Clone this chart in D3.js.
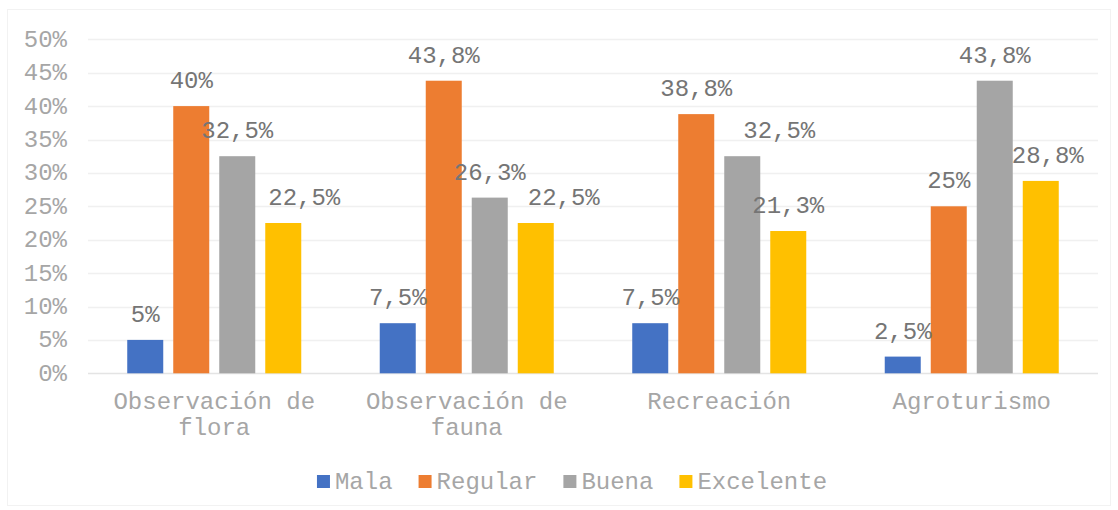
<!DOCTYPE html>
<html>
<head>
<meta charset="utf-8">
<script src="https://cdn.jsdelivr.net/npm/d3@7"></script>
<style>
  body { margin: 0; background: #fff; }
  svg text { font-family: "Courier New", "Nimbus Mono PS", FreeMono, "Liberation Mono", monospace; }
</style>
</head>
<body>
<div id="wrapper"></div>
<script>
// categories (two-line labels) and series
const categories = ['Observación de flora', 'Observación de fauna', 'Recreación', 'Agroturismo']
const categoryLines = [['Observación de', 'flora'], ['Observación de', 'fauna'], ['Recreación'], ['Agroturismo']]
const seriesNames = ['Mala', 'Regular', 'Buena', 'Excelente']

// percent values per series, one per category
const mala = [5, 7.5, 7.5, 2.5]
const regular = [40, 43.8, 38.8, 25]
const buena = [32.5, 26.3, 32.5, 43.8]
const excelente = [22.5, 22.5, 21.3, 28.8]

const yTicks = [0, 5, 10, 15, 20, 25, 30, 35, 40, 45, 50]

const colors = ['#4472C4', '#ED7D31', '#A5A5A5', '#FFC000']

// Excel moved a few labels sideways to dodge neighbouring bars
const labelDx = {
	'Observación de flora|Excelente': 21,
	'Observación de fauna|Excelente': 28,
	'Recreación|Buena': 37,
	'Agroturismo|Excelente': 7,
}

const seriesValues = [mala, regular, buena, excelente]
const rows = []
categories.forEach((c, i) => {
	seriesNames.forEach((s, j) => {
		rows.push({ category: c, series: s, value: seriesValues[j][i] })
	})
})

const dimensions = {
	width: 1118,
	height: 510,
	plotLeft: 88,
	plotRight: 1098,
	plotTop: 39.3,
	plotBottom: 373.3,
}

const wrapper = d3.select('#wrapper')
	.append('svg')
	.attr('width', dimensions.width)
	.attr('height', dimensions.height)

// chart frame
wrapper.append('rect')
	.attr('x', 7.5)
	.attr('y', 9.5)
	.attr('width', 1103)
	.attr('height', 496)
	.attr('fill', '#fff')
	.attr('stroke', '#f2f2f2')

const yScale = d3.scaleLinear()
	.domain([0, 50])
	.range([dimensions.plotBottom, dimensions.plotTop])

const xScale = d3.scaleBand()
	.domain(categories)
	.range([dimensions.plotLeft, dimensions.plotRight])

const seriesScale = d3.scaleBand()
	.domain(seriesNames)
	.range([0, xScale.bandwidth()])
	.paddingInner(10 / 46)
	.paddingOuter(0.853)

const colorScale = d3.scaleOrdinal()
	.domain(seriesNames)
	.range(colors)

// gridlines
wrapper.append('g')
	.selectAll('line')
	.data(yTicks)
	.enter().append('line')
	.attr('x1', dimensions.plotLeft)
	.attr('x2', dimensions.plotRight)
	.attr('y1', d => Math.round(yScale(d)) + 0.5)
	.attr('y2', d => Math.round(yScale(d)) + 0.5)
	.attr('stroke', d => d === 0 ? '#e4e4e4' : '#f0f0f0')
	.attr('stroke-width', 1.3)

// y axis labels
wrapper.append('g')
	.selectAll('text')
	.data(yTicks)
	.enter().append('text')
	.attr('x', 67)
	.attr('y', d => yScale(d) + 7.5)
	.attr('text-anchor', 'end')
	.attr('fill', '#a6a6a6')
	.style('font-size', '24px')
	.text(d => d + '%')

// bars
wrapper.append('g')
	.selectAll('rect')
	.data(rows)
	.enter().append('rect')
	.attr('x', d => xScale(d.category) + seriesScale(d.series))
	.attr('y', d => yScale(d.value))
	.attr('width', seriesScale.bandwidth())
	.attr('height', d => yScale(0) - yScale(d.value))
	.attr('fill', d => colorScale(d.series))

// data labels
const fmt = v => String(v).replace('.', ',') + '%'
wrapper.append('g')
	.selectAll('text')
	.data(rows)
	.enter().append('text')
	.attr('x', d => xScale(d.category) + seriesScale(d.series) + seriesScale.bandwidth() / 2
		+ (labelDx[d.category + '|' + d.series] || 0))
	.attr('y', d => yScale(d.value) - 18)
	.attr('text-anchor', 'middle')
	.attr('fill', '#757575')
	.style('font-size', '24px')
	.text(d => fmt(d.value))

// category labels
const catText = wrapper.append('g')
	.selectAll('text')
	.data(categories)
	.enter().append('text')
	.attr('text-anchor', 'middle')
	.attr('fill', '#a6a6a6')
	.style('font-size', '24px')

catText.each(function (d, i) {
	const cx = xScale(d) + xScale.bandwidth() / 2
	d3.select(this).selectAll('tspan')
		.data(categoryLines[i])
		.enter().append('tspan')
		.attr('x', cx)
		.attr('y', (l, k) => 409 + k * 26)
		.text(l => l)
})

// legend
const legend = wrapper.append('g')
const items = legend.selectAll('g')
	.data(seriesNames)
	.enter().append('g')

items.append('rect')
	.attr('y', 475)
	.attr('width', 13)
	.attr('height', 13)
	.attr('fill', d => colorScale(d))

items.append('text')
	.attr('x', 18)
	.attr('y', 489)
	.attr('fill', '#a6a6a6')
	.style('font-size', '24px')
	.text(d => d)

let offset = 0
const widths = []
items.each(function () {
	const w = 18 + d3.select(this).select('text').node().getComputedTextLength()
	widths.push(w)
})
const totalWidth = d3.sum(widths) + 26 * (widths.length - 1)
const legendStart = 572 - totalWidth / 2
items.attr('transform', (d, i) => {
	const x = legendStart + offset
	offset += widths[i] + 26
	return `translate(${x},0)`
})
</script>
</body>
</html>
